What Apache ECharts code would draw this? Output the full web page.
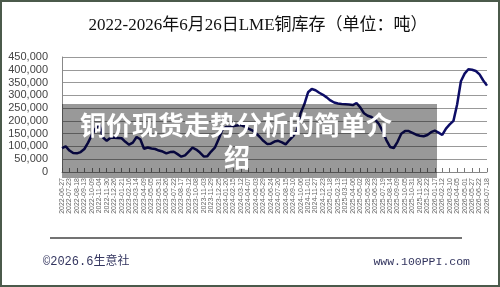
<!DOCTYPE html>
<html><head><meta charset="utf-8">
<script src="https://cdn.jsdelivr.net/npm/echarts@6/dist/echarts.min.js"></script>
<style>html,body{margin:0;padding:0;background:#fff}#c{width:500px;height:287px}</style>
</head><body><div id="c"></div>
<script>
const titleText = '2022-2026年6月26日LME铜库存（单位：吨）';
const overlayLine1 = '铜价现货走势分析的简单介';
const overlayLine2 = '绍';
const footerLeft = '©2026.6生意社';
const footerRight = 'www.100PPI.com';
const yMin = 0, yMax = 450000, yStep = 50000;
const stocks = [
  93000,100000,84000,74000,73000,78000,90000,115000,145000,170000,
  185000,135000,122000,134000,134000,133000,132000,118000,107000,115000,
  137000,128000,91000,96000,92000,90000,84000,80000,73000,78000,
  79000,70000,60000,65000,80000,95000,88000,76000,61000,62000,
  80000,95000,128000,165000,176000,176000,180000,182000,184000,178000,
  170000,163000,152000,138000,122000,110000,111000,119000,122000,116000,
  108000,125000,140000,162000,230000,265000,312000,325000,320000,310000,
  302000,292000,280000,272000,268000,266000,265000,264000,262000,270000,
  253000,230000,220000,215000,205000,188000,160000,125000,98000,94000,
  118000,150000,160000,160000,153000,146000,142000,140000,145000,156000,
  162000,154000,145000,170000,186000,200000,265000,355000,385000,402000,
  400000,395000,382000,358000,338000
];
const startDate = Date.UTC(2022, 5, 27);
const stepDays = 13;
const categories = stocks.map((_, i) => new Date(startDate + i * stepDays * 864e5).toISOString().slice(0, 10));

const chart = echarts.init(document.getElementById('c'), null, {renderer: 'canvas'});
chart.setOption({
  animation: false,
  backgroundColor: '#fff',
  grid: {left: 62, top: 57, right: 13, bottom: 115, containLabel: false},
  xAxis: {
    type: 'category', data: categories, boundaryGap: false,
    axisLine: {show: true, lineStyle: {color: '#888', width: 1}},
    axisTick: {show: true, inside: true, length: 4, interval: 1, lineStyle: {color: '#777'}},
    axisLabel: {interval: 1, rotate: 90, fontSize: 7, color: '#666', margin: 6, fontFamily: 'Liberation Sans'},
    splitLine: {show: false}
  },
  yAxis: {
    type: 'value', min: yMin, max: yMax, interval: yStep,
    axisLine: {show: true, lineStyle: {color: '#888', width: 1}},
    axisTick: {show: false},
    axisLabel: {fontSize: 11, color: '#444', margin: 14, fontFamily: 'Liberation Sans'},
    splitLine: {show: true, lineStyle: {color: '#999', width: 1}}
  },
  series: [{
    type: 'line', data: stocks, showSymbol: false, smooth: false,
    lineStyle: {color: '#0d0d66', width: 2.5},
    z: 3
  }],
  graphic: [
    {type: 'rect', z: 200, shape: {x: 1, y: 1, width: 498, height: 285}, style: {fill: 'none', stroke: '#4b5a4b', lineWidth: 2}},
    {type: 'text', z: 10, x: 258, y: 26, style: {text: titleText, fill: '#111', font: '17px "Liberation Serif", "Noto Sans CJK SC"', textAlign: 'center', textVerticalAlign: 'middle'}},
    {type: 'rect', z: 100, shape: {x: 62, y: 104, width: 375, height: 74}, style: {fill: 'rgba(0,0,0,0.4)'}},
    {type: 'text', z: 101, x: 236, y: 125, style: {text: overlayLine1, fill: '#fff', font: 'bold 26px "Noto Sans CJK SC"', textAlign: 'center', textVerticalAlign: 'middle'}},
    {type: 'text', z: 101, x: 237, y: 157, style: {text: overlayLine2, fill: '#fff', font: 'bold 26px "Noto Sans CJK SC"', textAlign: 'center', textVerticalAlign: 'middle'}},
    {type: 'line', z: 10, shape: {x1: 50, y1: 238, x2: 462, y2: 238}, style: {stroke: '#444', lineWidth: 1.5}},
    {type: 'text', z: 10, x: 43, y: 262, style: {text: footerLeft, fill: '#33355f', font: '12px "Liberation Mono", "Noto Sans CJK SC"', textAlign: 'left', textVerticalAlign: 'middle'}},
    {type: 'text', z: 10, x: 470, y: 262, style: {text: footerRight, fill: '#33355f', font: '11.5px "Liberation Mono"', textAlign: 'right', textVerticalAlign: 'middle'}}
  ]
});
</script></body></html>
